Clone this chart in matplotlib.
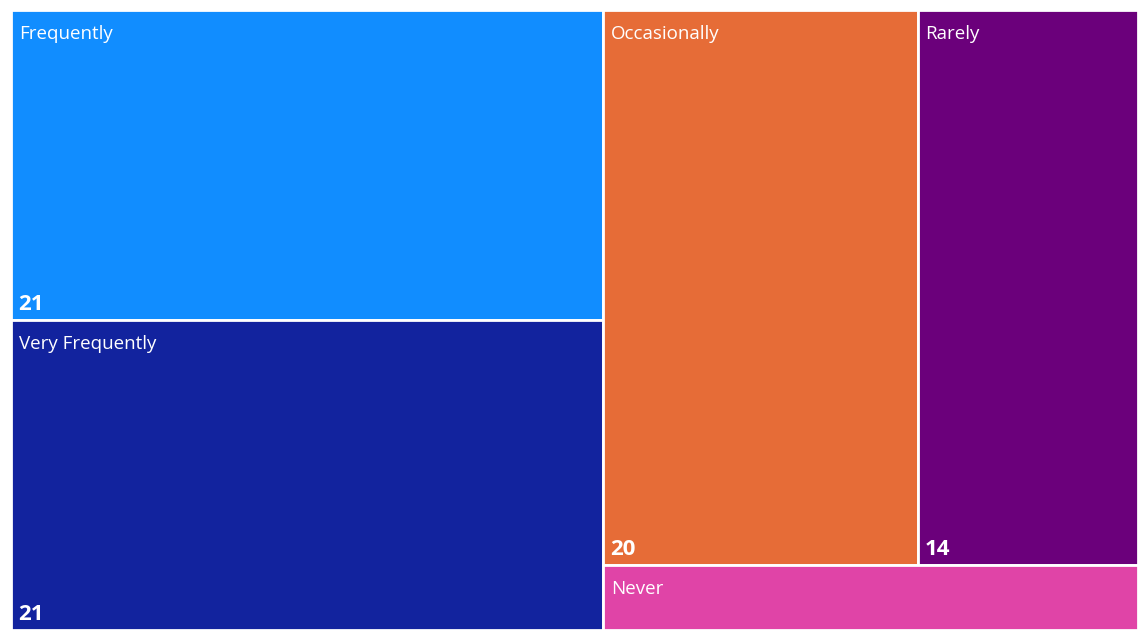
import matplotlib.pyplot as plt
from matplotlib.patches import Rectangle

plt.rcParams["font.family"] = ["Open Sans", "DejaVu Sans"]

categories = ["Frequently", "Very Frequently", "Occasionally", "Rarely", "Never"]
counts = [21, 21, 20, 14, 4]
colors = ["#118DFF", "#12239E", "#E66C37", "#6B007B", "#E044A7"]

W, H = 1127, 620  # treemap area in pixels


def layout(vals, x, y, w, h):
    # left column: first two stacked; right block: top row of two, bottom one
    total = sum(vals)
    left_w = w * (vals[0] + vals[1]) / total
    rects = []
    top_h = h * vals[0] / (vals[0] + vals[1])
    rects.append((x, y, left_w, top_h))
    rects.append((x, y + top_h, left_w, h - top_h))
    rx, rw = x + left_w, w - left_w
    right_total = vals[2] + vals[3] + vals[4]
    row_h = h * (vals[2] + vals[3]) / right_total
    w2 = rw * vals[2] / (vals[2] + vals[3])
    rects.append((rx, y, w2, row_h))
    rects.append((rx + w2, y, rw - w2, row_h))
    rects.append((rx, y + row_h, rw, h - row_h))
    return rects


fig = plt.figure(figsize=(11.38, 6.3), dpi=100)
ax = fig.add_axes([11 / 1138, 0, W / 1138, H / 630])
ax.set_xlim(0, W)
ax.set_ylim(H, 0)
ax.axis("off")

for (x, y, w, h), name, val, c in zip(layout(counts, 0, 0, W, H), categories, counts, colors):
    ax.add_patch(Rectangle((x, y), w, h, facecolor=c, edgecolor="white", linewidth=2))
    ax.text(x + 8, y + 29, name, color="white", fontsize=13.5, va="baseline", ha="left")
    if h > 100:
        ax.text(x + 7, y + h - 10, str(val), color="white", fontsize=16,
                fontweight="bold", va="baseline", ha="left")

fig.savefig("out.png", dpi=100)
